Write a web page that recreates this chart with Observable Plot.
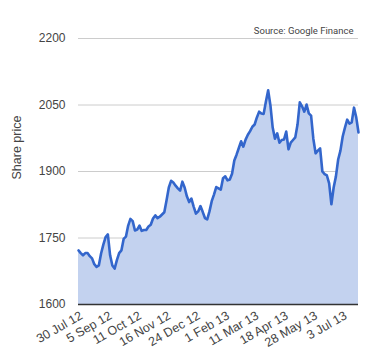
<!DOCTYPE html>
<html>
<head>
<meta charset="utf-8">
<script src="https://cdn.jsdelivr.net/npm/d3@7"></script>
<script src="https://cdn.jsdelivr.net/npm/@observablehq/plot@0.6"></script>
<style>
  html, body { margin: 0; padding: 0; background: #fff; }
  svg { display: block; }
</style>
</head>
<body>
<div id="chart"></div>
<script>
// Share price sampled every 2 trading days (30 Jul 2012 – Jul 2013)
const price = [
  1722, 1716, 1711, 1716, 1716, 1709, 1704, 1691, 1685, 1688,
  1715, 1735, 1752, 1758, 1711, 1688, 1681, 1700, 1716, 1722,
  1748, 1753, 1778, 1793, 1788, 1767, 1769, 1778, 1766, 1768,
  1768, 1776, 1780, 1794, 1801, 1795, 1798, 1803, 1808, 1835,
  1864, 1879, 1875, 1868, 1862, 1857, 1877, 1864, 1844, 1831,
  1839, 1821, 1805, 1810, 1822, 1809, 1795, 1792, 1810, 1833,
  1848, 1865, 1862, 1859, 1885, 1889, 1880, 1882, 1895, 1925,
  1938, 1953, 1968, 1956, 1972, 1983, 1991, 2001, 2006, 2022,
  2035, 2031, 2030, 2058, 2083, 2049, 1999, 1974, 1986, 1965,
  1971, 1972, 1990, 1950, 1965, 1971, 1977, 2006, 2056, 2047,
  2035, 2051, 2031, 2026, 1974, 1941, 1947, 1952, 1900, 1894,
  1891, 1873, 1826, 1864, 1889, 1927, 1947, 1979, 1999, 2017,
  2008, 2011, 2044, 2022, 1988
];
const tickLabels = ["30 Jul 12", "5 Sep 12", "11 Oct 12", "16 Nov 12", "24 Dec 12",
                    "1 Feb 13", "11 Mar 13", "18 Apr 13", "28 May 13", "3 Jul 13"];
const tickEvery = 13; // one label every 26 trading days
const yTicks = [1600, 1750, 1900, 2050, 2200];
const yLabel = "Share price";
const source = "Source: Google Finance";

const data = price.map((p, i) => ({i, p}));
const xTicks = tickLabels.map((_, k) => k * tickEvery);

const chart = Plot.plot({
  width: 380,
  height: 350,
  marginLeft: 78,
  marginRight: 22,
  marginTop: 38,
  marginBottom: 46,
  style: {fontFamily: "'Liberation Sans', Arial, sans-serif", background: "#fff"},
  x: {type: "linear", domain: [0, price.length - 1]},
  y: {domain: [1600, 2200]},
  marks: [
    Plot.gridY(yTicks, {stroke: "#cccccc", strokeOpacity: 1}),
    Plot.areaY(data, {x: "i", y1: 1600, y2: "p", fill: "#c3d2ef", fillOpacity: 1}),
    Plot.lineY(data, {x: "i", y: "p", stroke: "#3366cc", strokeWidth: 2.6, strokeLinejoin: "round"}),
    Plot.ruleY([1600], {stroke: "#333", strokeWidth: 1.5}),
    Plot.axisY(yTicks, {tickSize: 0, tickPadding: 13, fontSize: 12, color: "#444", label: null,
      tickFormat: (d) => String(d)}),
    Plot.axisX(xTicks, {
      tickSize: 0, tickPadding: 10, tickRotate: -30, fontSize: 12.5, color: "#444",
      tickFormat: (d) => tickLabels[d / tickEvery], label: null, dx: 3
    }),
    Plot.text([yLabel], {frameAnchor: "left", dx: -62, dy: 8, rotate: -90, fontSize: 12.5, fill: "#444"}),
    Plot.text([source], {frameAnchor: "top-right", dx: -5, dy: -11, textAnchor: "end",
      fontSize: 9.5, fill: "#444", fontFamily: "Roboto, sans-serif"})
  ]
});
document.getElementById("chart").appendChild(chart);
</script>
</body>
</html>
